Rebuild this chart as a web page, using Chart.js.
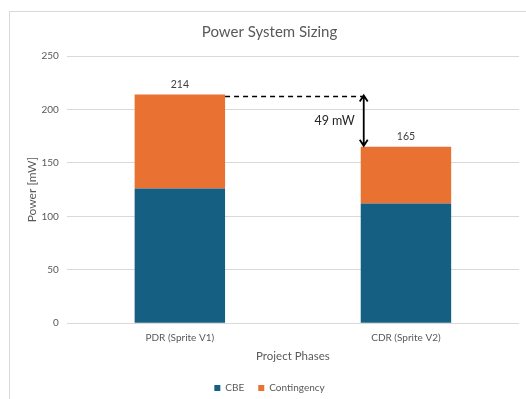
<!DOCTYPE html>
<html>
<head>
<meta charset="utf-8">
<script src="https://cdn.jsdelivr.net/npm/chart.js@4"></script>
<style>
  html, body { margin: 0; padding: 0; background: #fff; overflow: hidden; }
  #frame {
    position: absolute; left: 9px; top: 11px;
    width: 526px; height: 400px;
    border: 1px solid #d9d9d9; box-sizing: border-box;
  }
</style>
</head>
<body>
<div id="frame"><canvas id="power"></canvas></div>
<script>
const phases = ['PDR (Sprite V1)', 'CDR (Sprite V2)'];
const cbe = [126, 112];
const contingency = [88, 53];
const totals = [214, 165];
const yTicks = [0, 50, 100, 150, 200, 250];

const FONT = 'Lato';
const GREY = '#595959';

// totals above each stack + the dashed gap marker between the two phases
const annotate = {
  id: 'annotate',
  afterDatasetsDraw(chart) {
    const ctx = chart.ctx;
    const y = chart.scales.y;
    const top = chart.getDatasetMeta(1).data;
    ctx.save();
    ctx.font = '10.5px ' + FONT;
    ctx.fillStyle = '#404040';
    ctx.textAlign = 'center';
    ctx.textBaseline = 'bottom';
    top.forEach((bar, i) => {
      ctx.fillText(String(totals[i]), bar.x, y.getPixelForValue(totals[i]) - 5);
    });

    const hi = y.getPixelForValue(totals[0]);
    const lo = y.getPixelForValue(totals[1]);
    const x0 = top[0].x + top[0].width / 2;
    const ax = top[1].x - top[1].width / 2 + 3;

    ctx.strokeStyle = '#000';
    ctx.lineWidth = 1.5;
    ctx.setLineDash([5, 4]);
    ctx.beginPath();
    ctx.moveTo(x0, hi + 2);
    ctx.lineTo(ax, hi + 2);
    ctx.stroke();

    ctx.setLineDash([]);
    ctx.lineWidth = 1.8;
    ctx.beginPath();
    ctx.moveTo(ax, hi + 1);
    ctx.lineTo(ax, lo - 1);
    ctx.moveTo(ax - 4, hi + 7); ctx.lineTo(ax, hi + 1); ctx.lineTo(ax + 4, hi + 7);
    ctx.moveTo(ax - 4, lo - 7); ctx.lineTo(ax, lo - 1); ctx.lineTo(ax + 4, lo - 7);
    ctx.stroke();

    ctx.font = '12.5px ' + FONT;
    ctx.fillStyle = '#262626';
    ctx.textAlign = 'right';
    ctx.textBaseline = 'middle';
    ctx.fillText((totals[0] - totals[1]) + ' mW', ax - 9, (hi + lo) / 2);
    ctx.restore();
  }
};

new Chart(document.getElementById('power'), {
  type: 'bar',
  data: {
    labels: phases,
    datasets: [
      { label: 'CBE', data: cbe, backgroundColor: '#156082' },
      { label: 'Contingency', data: contingency, backgroundColor: '#E97132' }
    ]
  },
  options: {
    responsive: true,
    maintainAspectRatio: false,
    animation: false,
    events: [],
    datasets: { bar: { barPercentage: 0.4, categoryPercentage: 1 } },
    layout: { padding: { left: 10, right: 15, top: 6, bottom: 7 } },
    plugins: {
      title: {
        display: true,
        text: 'Power System Sizing',
        color: GREY,
        font: { family: FONT, size: 15, weight: 'normal' },
        padding: { top: 5, bottom: 15 }
      },
      legend: {
        position: 'bottom',
        labels: {
          color: GREY,
          font: { family: FONT, size: 10 },
          boxWidth: 6, boxHeight: 6,
          padding: 14
        }
      },
      tooltip: { enabled: false }
    },
    scales: {
      x: {
        stacked: true,
        grid: { display: false, drawTicks: false },
        border: { display: false },
        ticks: { color: GREY, font: { family: FONT, size: 10 }, padding: 9 },
        title: {
          display: true, text: 'Project Phases', color: GREY,
          font: { family: FONT, size: 11.5 }, padding: { top: -4, bottom: 6 }
        }
      },
      y: {
        stacked: true,
        min: 0, max: 250,
        afterBuildTicks(axis) { axis.ticks = yTicks.map(v => ({ value: v })); },
        grid: { color: '#d9d9d9', drawTicks: false },
        border: { display: false },
        ticks: { color: GREY, font: { family: FONT, size: 10 }, padding: 8 },
        title: {
          display: true, text: 'Power [mW]', color: GREY,
          font: { family: FONT, size: 12 }, padding: { top: 5, bottom: -6 }
        }
      }
    }
  },
  plugins: [annotate]
});
</script>
</body>
</html>
